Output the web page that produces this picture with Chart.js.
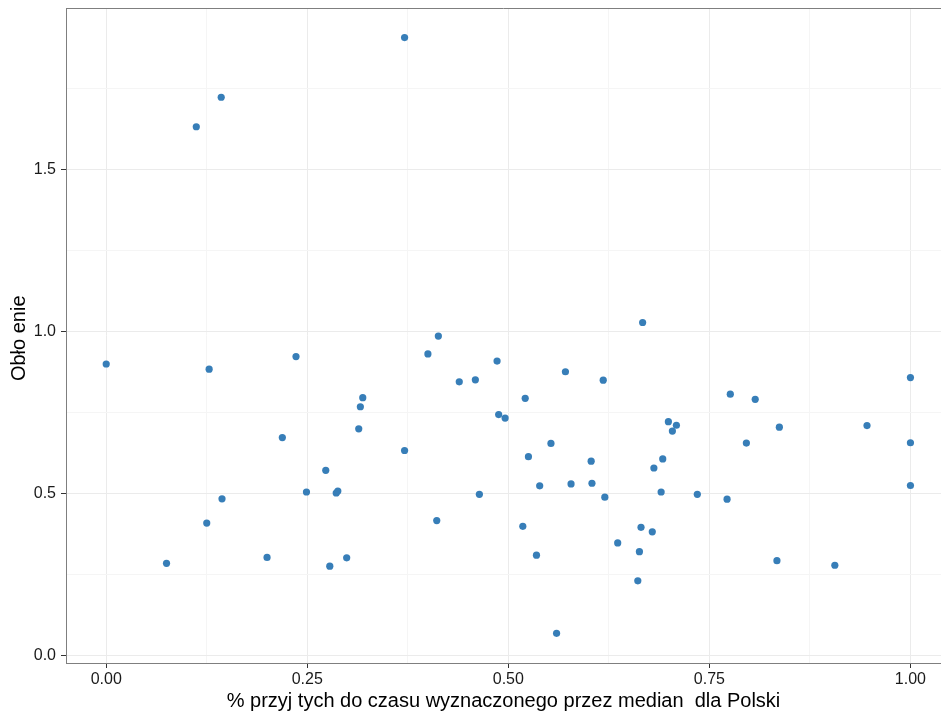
<!DOCTYPE html>
<html>
<head>
<meta charset="utf-8">
<script src="https://cdn.jsdelivr.net/npm/chart.js@4.4.1/dist/chart.umd.min.js"></script>
<style>
  html, body { margin: 0; padding: 0; background: #fff; overflow: hidden; }
</style>
</head>
<body>
<canvas id="myChart" width="941" height="714"></canvas>
<script>
const przyjete = [
  0.000, 0.075, 0.112, 0.143, 0.128, 0.125, 0.144, 0.200, 0.219, 0.236,
  0.249, 0.273, 0.278, 0.286, 0.288, 0.299, 0.314, 0.316, 0.319, 0.371,
  0.371, 0.400, 0.413, 0.411, 0.439, 0.459, 0.464, 0.486, 0.488, 0.496,
  0.521, 0.518, 0.525, 0.535, 0.539, 0.553, 0.560, 0.571, 0.578, 0.603,
  0.604, 0.618, 0.620, 0.636, 0.661, 0.663, 0.665, 0.667, 0.679, 0.681,
  0.690, 0.692, 0.699, 0.704, 0.709, 0.735, 0.772, 0.776, 0.796, 0.807,
  0.834, 0.837, 0.906, 0.946, 1.000, 1.000, 1.000
];
const oblozenie = [
  0.901, 0.286, 1.633, 1.724, 0.885, 0.410, 0.485, 0.304, 0.674, 0.924,
  0.506, 0.573, 0.277, 0.503, 0.509, 0.303, 0.701, 0.769, 0.797, 1.908,
  0.634, 0.932, 0.987, 0.418, 0.846, 0.852, 0.499, 0.910, 0.745, 0.734,
  0.795, 0.400, 0.615, 0.311, 0.525, 0.656, 0.070, 0.877, 0.531, 0.601,
  0.533, 0.851, 0.490, 0.349, 0.232, 0.322, 0.397, 1.029, 0.383, 0.580,
  0.506, 0.608, 0.723, 0.694, 0.712, 0.499, 0.484, 0.808, 0.657, 0.792,
  0.294, 0.706, 0.280, 0.711, 0.859, 0.658, 0.526
];

const xMajor = [0, 0.25, 0.5, 0.75, 1];
const xMinor = [0.125, 0.375, 0.625, 0.875];
const yMajor = [0, 0.5, 1, 1.5];
const yMinor = [0.25, 0.75, 1.25, 1.75];

const xTitle = "% przyj tych do czasu wyznaczonego przez median  dla Polski";
const yTitle = "Obło enie ";

const points = przyjete.map((x, i) => ({ x: x, y: oblozenie[i] }));

function isMajor(list, v) {
  return list.some((m) => Math.abs(m - v) < 1e-9);
}

function tickSetter(major, minor) {
  return (scale) => {
    scale.ticks = major.concat(minor).sort((a, b) => a - b).map((v) => ({ value: v }));
  };
}

// no extra room for label overhang, the panel goes right to the edges
function noOverhang(scale) {
  scale.paddingTop = 0;
  scale.paddingBottom = 0;
  scale.paddingLeft = 0;
  scale.paddingRight = 0;
}

const panelBorder = {
  id: "panelBorder",
  afterDraw(chart) {
    const { ctx, chartArea } = chart;
    ctx.save();
    ctx.strokeStyle = "#7f7f7f";
    ctx.lineWidth = 1;
    ctx.beginPath();
    ctx.moveTo(chartArea.left, chartArea.top + 0.5);
    ctx.lineTo(chartArea.right, chartArea.top + 0.5);
    ctx.stroke();
    ctx.restore();
  },
};

const ctx = document.getElementById("myChart");

new Chart(ctx, {
  type: "scatter",
  data: {
    datasets: [{
      data: points,
      backgroundColor: "#377eb8",
      borderWidth: 0,
      pointRadius: 3.6,
    }],
  },
  options: {
    responsive: false,
    animation: false,
    layout: { autoPadding: false, padding: { top: 8, right: 0, bottom: 0, left: 0 } },
    plugins: { legend: { display: false }, tooltip: { enabled: false } },
    scales: {
      x: {
        type: "linear",
        min: -0.05,
        max: 1.038,
        afterBuildTicks: tickSetter(xMajor, xMinor),
        afterFit: (scale) => { scale.height = 51; noOverhang(scale); },
        border: { display: true, color: "#7f7f7f", width: 1 },
        grid: {
          color: (c) => isMajor(xMajor, c.tick.value) ? "#ebebeb" : "#f5f5f5",
          tickColor: (c) => isMajor(xMajor, c.tick.value) ? "#333333" : "rgba(0,0,0,0)",
          tickLength: 5,
          lineWidth: 1,
        },
        ticks: {
          autoSkip: false,
          maxRotation: 0,
          padding: 2,
          color: "#1a1a1a",
          font: { family: "'Liberation Sans', Arial, sans-serif", size: 16 },
          callback: (v) => isMajor(xMajor, v) ? Number(v).toFixed(2) : "",
        },
        title: {
          display: true,
          text: xTitle,
          color: "#000",
          padding: { top: 0, bottom: 1 },
          font: { family: "'Liberation Sans', Arial, sans-serif", size: 20 },
        },
      },
      y: {
        type: "linear",
        min: -0.0216,
        max: 1.9994,
        afterBuildTicks: tickSetter(yMajor, yMinor),
        afterFit: (scale) => { scale.width = 66; noOverhang(scale); },
        border: { display: true, color: "#7f7f7f", width: 1 },
        grid: {
          color: (c) => isMajor(yMajor, c.tick.value) ? "#ebebeb" : "#f5f5f5",
          tickColor: (c) => isMajor(yMajor, c.tick.value) ? "#333333" : "rgba(0,0,0,0)",
          tickLength: 5,
          lineWidth: 1,
        },
        ticks: {
          autoSkip: false,
          padding: 5,
          color: "#1a1a1a",
          font: { family: "'Liberation Sans', Arial, sans-serif", size: 16 },
          callback: (v) => isMajor(yMajor, v) ? Number(v).toFixed(1) : "",
        },
        title: {
          display: true,
          text: yTitle,
          color: "#000",
          padding: { top: 7, bottom: 0 },
          font: { family: "'Liberation Sans', Arial, sans-serif", size: 20 },
        },
      },
    },
  },
  plugins: [panelBorder],
});
</script>
</body>
</html>
